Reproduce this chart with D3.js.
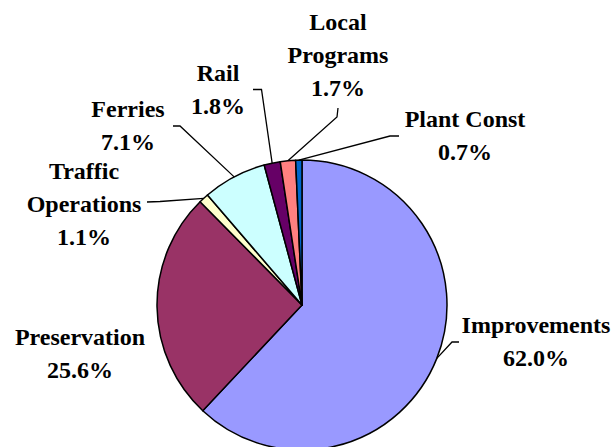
<!DOCTYPE html>
<html>
<head>
<meta charset="utf-8">
<script src="https://cdn.jsdelivr.net/npm/d3@7"></script>
<style>
  html, body { margin: 0; padding: 0; background: #ffffff; }
  svg { display: block; }
</style>
</head>
<body>
<svg id="chart" width="611" height="447"></svg>
<script>
// Budget shares by program, in percent
const categories = ["Improvements", "Preservation", "Traffic Operations", "Ferries", "Rail", "Local Programs", "Plant Const"];
const shares = [62.0, 25.6, 1.1, 7.1, 1.8, 1.7, 0.7];
const nameLines = [["Improvements"], ["Preservation"], ["Traffic", "Operations"], ["Ferries"], ["Rail"], ["Local", "Programs"], ["Plant Const"]];
const colors = ["#9999FF", "#993366", "#FFFFCC", "#CCFFFF", "#660066", "#FF8080", "#0066CC"];

// Label placement: text centre, first baseline, and leader line bend/end points
const labelLayout = [
  { x: 536, y: 333, leader: [[452, 342], [459, 342]] },
  { x: 80,  y: 345, leader: null },
  { x: 84,  y: 179, leader: [[160, 201.5], [147, 202]] },
  { x: 128, y: 117, leader: [[180, 126], [173, 126]] },
  { x: 218, y: 81,  leader: [[261.5, 89.5], [253, 89.5]] },
  { x: 338, y: 30,  leader: [[337, 117], [338, 108]] },
  { x: 465, y: 127, leader: [[390, 136], [399, 136]] }
];
const lineHeight = 33;
const labelFont = "'Liberation Serif', 'Times New Roman', Tinos, 'DejaVu Serif', serif";

const cx = 302, cy = 305, radius = 145;
const svg = d3.select("#chart");
const g = svg.append("g").attr("transform", `translate(${cx},${cy})`);

const pie = d3.pie().sort(null).value(d => d.value);
const arcs = pie(categories.map((c, i) => ({ name: c, value: shares[i], i })));
const arc = d3.arc().innerRadius(0).outerRadius(radius);

g.selectAll("path.slice")
  .data(arcs)
  .join("path")
  .attr("class", "slice")
  .attr("d", arc)
  .attr("fill", d => colors[d.data.i])
  .attr("stroke", "#000")
  .attr("stroke-width", 1.5)
  .attr("stroke-linejoin", "round");

// Leader lines from the slice edge to each label
const line = d3.line();
arcs.forEach(d => {
  const lay = labelLayout[d.data.i];
  if (!lay.leader) return;
  const mid = (d.startAngle + d.endAngle) / 2;
  const start = [cx + radius * Math.sin(mid), cy - radius * Math.cos(mid)];
  svg.append("path")
    .attr("d", line([start, ...lay.leader]))
    .attr("fill", "none")
    .attr("stroke", "#000")
    .attr("stroke-width", 1.3);
});

// Category name and percentage labels
arcs.forEach(d => {
  const i = d.data.i;
  const lay = labelLayout[i];
  const lines = [...nameLines[i], shares[i].toFixed(1) + "%"];
  const t = svg.append("text")
    .attr("text-anchor", "middle")
    .attr("font-family", labelFont)
    .attr("font-weight", "bold")
    .attr("font-size", 24)
    .attr("fill", "#000");
  lines.forEach((s, k) => {
    t.append("tspan").attr("x", lay.x).attr("y", lay.y + k * lineHeight).text(s);
  });
});
</script>
</body>
</html>
